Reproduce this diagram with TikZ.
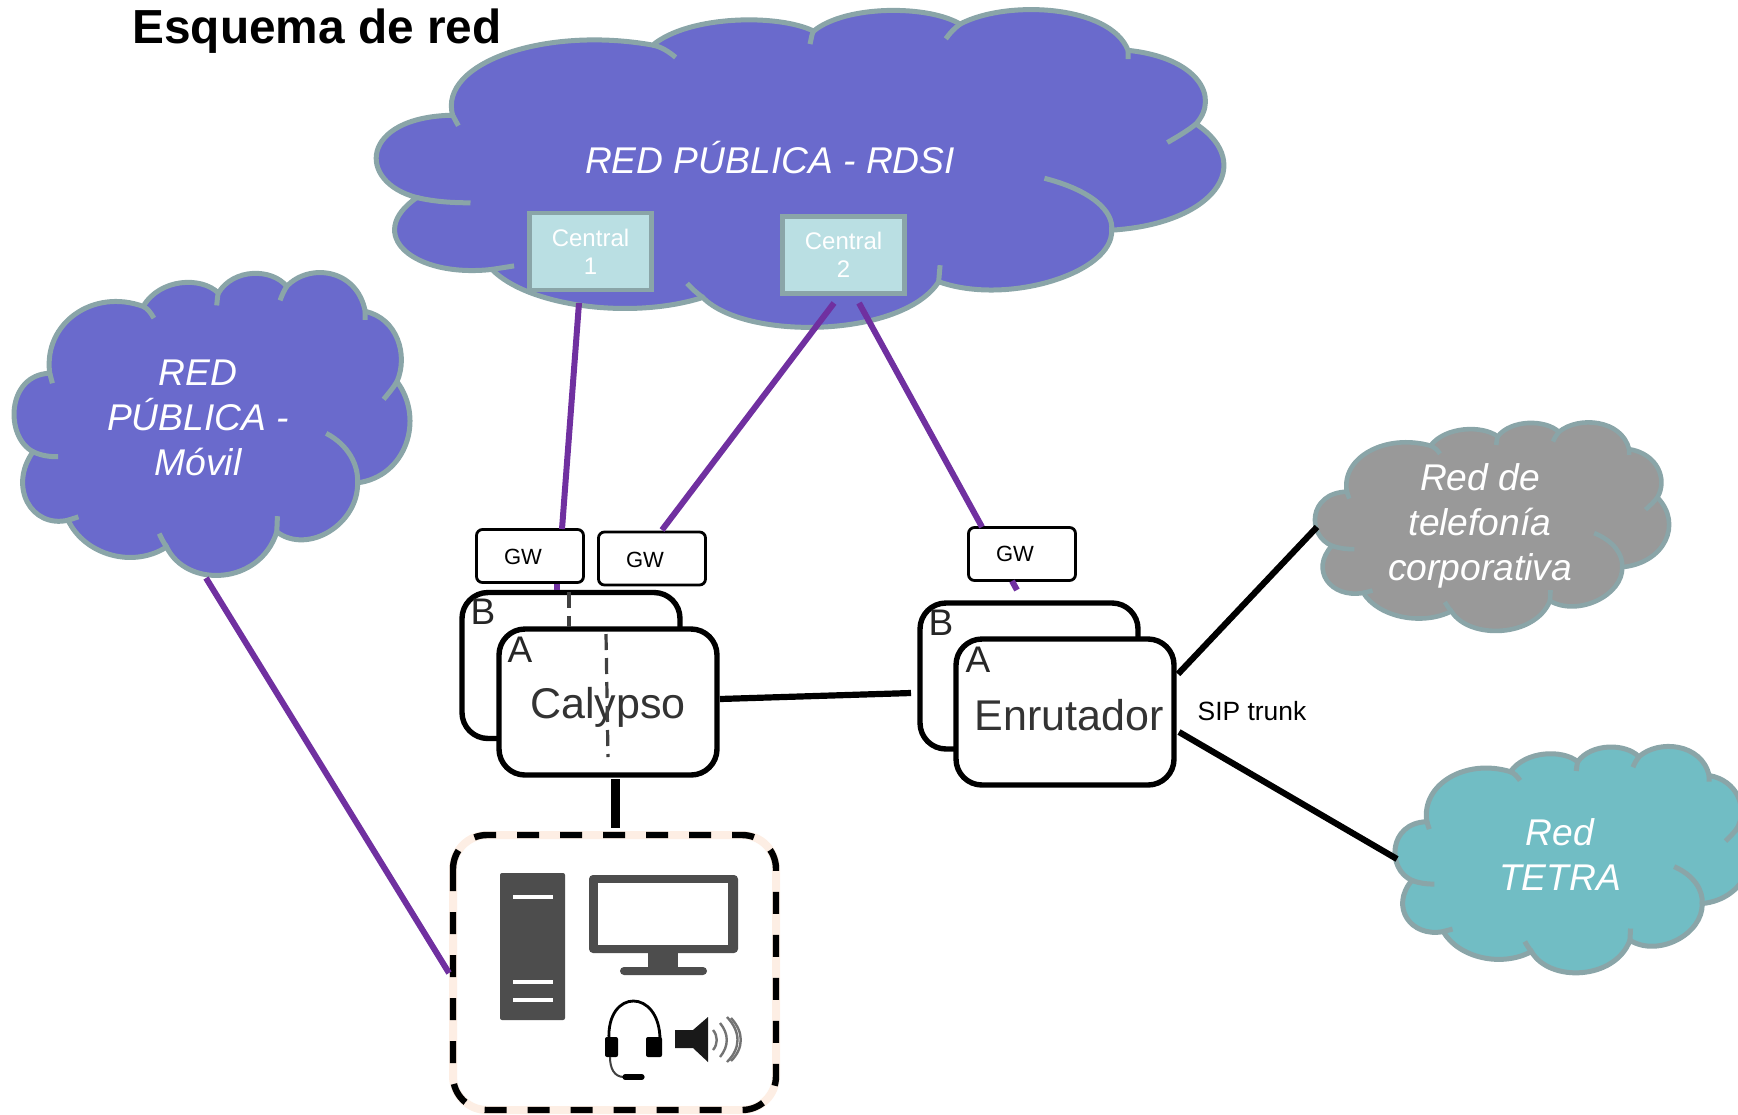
\documentclass[tikz,border=0pt]{standalone}
\usepackage{fontspec}
\setmainfont{Liberation Sans}
\usetikzlibrary{calc}
\definecolor{cloudline}{HTML}{8AA5A8}
\definecolor{bluecloud}{HTML}{6A6ACC}
\definecolor{graycloud}{HTML}{999999}
\definecolor{tealcloud}{HTML}{71BDC4}
\definecolor{centralfill}{HTML}{BADFE3}
\definecolor{linkpurple}{HTML}{7030A0}
\definecolor{icongray}{HTML}{4D4D4D}
\definecolor{peach}{HTML}{FDEEE4}
\tikzset{
  cloudlabel/.style={text=white,font=\fontsize{18.6}{22.5}\selectfont\itshape,align=center,inner sep=0pt},
  centralbox/.style={draw=cloudline,line width=2.2pt,fill=centralfill,text=white,font=\fontsize{12}{14}\selectfont,align=center,inner sep=0pt},
  gwbox/.style={draw=black,line width=1.4pt,fill=white,rounded corners=3pt,inner sep=0pt,minimum width=53.5pt,minimum height=26.5pt},
  gwtext/.style={font=\fontsize{11}{13}\selectfont,inner sep=0pt},
  unitbox/.style={draw=black,line width=2.7pt,fill=white,rounded corners=13pt,inner sep=0pt,minimum width=109pt,minimum height=73pt},
  letter/.style={font=\fontsize{18.5}{20}\selectfont,text=black!85,inner sep=0pt},
  unitname/.style={font=\fontsize{21.5}{25}\selectfont,text=black!80,inner sep=0pt},
  purplelink/.style={draw=linkpurple,line width=3pt},
  blacklink/.style={draw=black,line width=3.1pt},
  redundancy/.style={draw=black!75,line width=1.6pt,dash pattern=on 8pt off 4pt},
  wave/.style={draw=black!55,line width=1.2pt}
}
\newcommand{\netcloud}[6]{%
\begin{scope}[shift={(#1,#2)},xscale={#3/1192},yscale={#4/913},shift={(-40,-37)}]
\path[fill=#5,draw=cloudline,line width=#6]
 (150,340) .. controls (130,190) and (280,85) .. (430,140)
 .. controls (480,55) and (605,50) .. (655,100)
 .. controls (700,25) and (815,25) .. (860,80)
 .. controls (925,10) and (1070,25) .. (1095,155)
 .. controls (1190,175) and (1225,285) .. (1190,365)
 .. controls (1275,480) and (1215,650) .. (1072,668)
 .. controls (1075,790) and (925,885) .. (830,815)
 .. controls (780,975) and (560,985) .. (500,860)
 .. controls (400,925) and (255,885) .. (205,780)
 .. controls (95,805) and (25,680) .. (100,575)
 .. controls (15,530) and (20,345) .. (150,340) -- cycle;
\draw[cloudline,line width=#6]
 (430,140) .. controls (442,145) and (452,158) .. (462,175)
 (655,100) .. controls (652,110) and (652,122) .. (650,137)
 (860,80) .. controls (852,92) and (846,105) .. (840,122)
 (1095,155) -- (1095,180)
 (1190,365) .. controls (1178,385) and (1165,400) .. (1150,418)
 (978,520) .. controls (1045,555) and (1075,615) .. (1072,668)
 (830,815) -- (832,768)
 (500,860) .. controls (490,845) and (485,835) .. (478,820)
 (205,780) -- (236,770)
 (100,575) .. controls (125,587) and (150,590) .. (175,590)
 (150,340) -- (158,370);
\end{scope}}
\begin{document}
\begin{tikzpicture}[x=0.5pt,y=-0.5pt]
\useasboundingbox (0,0) rectangle (1738,1114);
\clip (0,0) rectangle (1738,1114);
% clouds
\netcloud{374}{9}{852}{320}{bluecloud}{2.5pt}
\netcloud{13}{272}{398}{305}{bluecloud}{2.5pt}
\netcloud{1314}{422}{356}{210}{graycloud}{2.3pt}
\netcloud{1394}{746}{356}{228}{tealcloud}{2.5pt}
% title and cloud labels
\node[anchor=west,inner sep=0pt,font=\fontsize{23.9}{29}\selectfont\bfseries] (title) at (132,31) {Esquema de red};
\node[cloudlabel] (rdsi) at (770,158) {RED PÚBLICA - RDSI};
\node[cloudlabel] (movil) at (198,418) {RED\\PÚBLICA -\\Móvil};
\node[cloudlabel] (corp) at (1480,526) {Red de\\telefonía\\corporativa};
\node[cloudlabel] (tetra) at (1560,855) {Red\\TETRA};
% centrales
\node[centralbox,minimum width=61pt,minimum height=38.5pt] (c1) at (590.5,251.5) {Central\\1};
\node[centralbox,minimum width=61pt,minimum height=38.5pt] (c2) at (843.5,255) {Central\\2};
% gateways
\node[gwbox] (gw1) at (530,556) {};
\node[gwbox] (gw2) at (652,558.5) {};
\node[gwbox] (gw3) at (1022,554) {};
\node[gwtext] (gw1t) at (523,557) {GW};
\node[gwtext] (gw2t) at (645,560) {GW};
\node[gwtext] (gw3t) at (1015,554) {GW};
% units
\node[unitbox] (calb) at (571,665.5) {};
\node[unitbox] (cala) at (608,702) {};
\node[unitbox] (enrb) at (1029,676) {};
\node[unitbox] (enra) at (1065,712) {};
\node[letter] (calbl) at (483,612) {B};
\node[letter] (calal) at (520,650) {A};
\node[letter] (enrbl) at (941,623) {B};
\node[letter] (enral) at (978,660) {A};
\node[unitname] (calname) at (608,707) {Calypso};
\node[unitname] (enrname) at (1069,715) {Enrutador};
\node[inner sep=0pt,font=\fontsize{13.2}{16}\selectfont] (sip) at (1252,711) {SIP trunk};
% dashed pair crossing the units
\coordinate (da1) at (569,592);
\coordinate (da2) at (569,627);
\coordinate (db1) at (606,634);
\coordinate (db2) at (608,757);
\draw[redundancy] (da1) -- (da2);
\draw[redundancy] (db1) -- (db2);
% operator position
\node[draw=peach,line width=4pt,outer sep=0pt,fill=white,rounded corners=17pt,inner sep=0pt,minimum width=161.5pt,minimum height=137.5pt] (pos) at (614.5,972.5) {};
\draw[black,line width=3.2pt,rounded corners=17pt,dash pattern=on 11pt off 10.5pt] (pos.north west) rectangle (pos.south east);
% tower icon
\fill[icongray,rounded corners=1pt] (500,873) rectangle (565,1020);
\draw[white,line width=2.4pt] (513,897) -- (553,897) (513,982) -- (553,982) (513,1000) -- (553,1000);
% monitor icon
\fill[icongray,rounded corners=2pt] (589,875) rectangle (738,953);
\fill[white] (598,883) rectangle (728,945);
\fill[icongray] (648,953) rectangle (678,968);
\fill[icongray,rounded corners=2pt] (620,967) rectangle (707,975);
% headset icon
\draw[black,line width=1.4pt] (609,1040) .. controls (606,988) and (660,988) .. (660,1040);
\fill[black,rounded corners=1pt] (605,1037) rectangle (618,1057);
\fill[black,rounded corners=1pt] (646,1037) rectangle (662,1057);
\draw[black!75,line width=1pt] (610,1057) .. controls (610,1068) and (614,1077) .. (624,1077);
\draw[black,line width=2.6pt,line cap=round] (625,1077) -- (642,1077);
% speaker icon
\fill[black!90] (675,1030) -- (693,1030) -- (708,1017) -- (708,1062) -- (693,1048) -- (675,1048) -- cycle;
\draw[wave] (713,1030) .. controls (718,1036) and (718,1044) .. (713,1050);
\draw[wave] (720,1023) .. controls (729,1034) and (729,1046) .. (720,1057);
\draw[wave] (727,1017) .. controls (741,1032) and (741,1048) .. (727,1062);
\draw[wave] (731,1018) .. controls (744,1032) and (744,1048) .. (731,1061);
% connector ends
\coordinate (c1out) at (579,303);
\coordinate (gw1in) at (562,529);
\coordinate (gw1o) at (557,584);
\coordinate (calbin) at (557,590);
\coordinate (c2l) at (834,303);
\coordinate (gw2in) at (662,530);
\coordinate (c2r) at (859,303);
\coordinate (gw3in) at (982,527);
\coordinate (gw3o) at (1012,581);
\coordinate (enrbin) at (1017,590);
\coordinate (movout) at (206,578);
\coordinate (posin) at (449,973);
\coordinate (calr) at (720,699);
\coordinate (enrl) at (911,693);
\coordinate (calbot) at (615.5,779);
\coordinate (postop) at (615.5,828);
\coordinate (enrup) at (1178,674);
\coordinate (corpin) at (1317,527);
\coordinate (enrdn) at (1179,732);
\coordinate (tetrain) at (1397,859);
% connectors
\draw[purplelink] (c1out) -- (gw1in);
\draw[purplelink] (gw1o) -- (calbin);
\draw[purplelink] (c2l) -- (gw2in);
\draw[purplelink] (c2r) -- (gw3in);
\draw[purplelink] (gw3o) -- (enrbin);
\draw[purplelink] (movout) -- (posin);
\draw[blacklink] (calr) -- (enrl);
\draw[blacklink,line width=4.5pt] (calbot) -- (postop);
\draw[blacklink] (enrup) -- (corpin);
\draw[blacklink] (enrdn) -- (tetrain);
\end{tikzpicture}
\end{document}
